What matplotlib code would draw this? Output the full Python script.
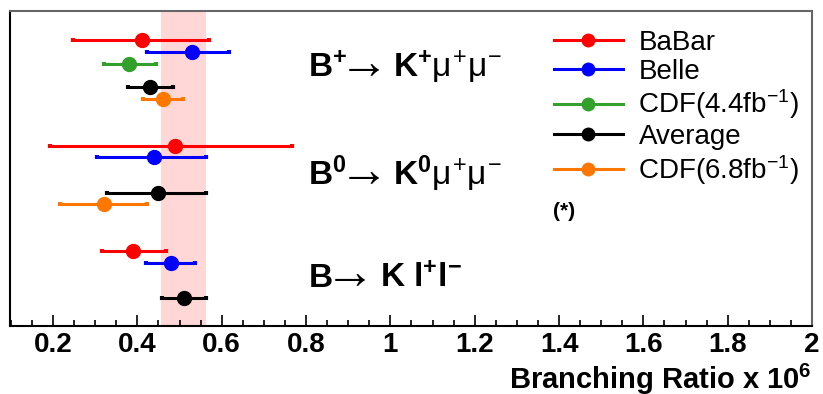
import matplotlib
matplotlib.use('Agg')
import matplotlib.pyplot as plt
import numpy as np
from matplotlib.lines import Line2D
from matplotlib.ticker import MultipleLocator

plt.rcParams['font.family'] = ['Liberation Sans', 'DejaVu Sans']
plt.rcParams['mathtext.fontset'] = 'custom'
plt.rcParams['mathtext.rm'] = 'Liberation Sans'
plt.rcParams['mathtext.it'] = 'Liberation Sans'
plt.rcParams['mathtext.bf'] = 'Liberation Sans:bold'

# decay modes (top to bottom): parent, daughters
mode_parent = [r'$\mathbf{B^{+}}$', r'$\mathbf{B^{0}}$', r'$\mathbf{B}$']
mode_daughters = [r'$\mathbf{K^{+}}\mu^{+}\mu^{-}$',
                  r'$\mathbf{K^{0}}\mu^{+}\mu^{-}$',
                  r'$\mathbf{K\ l^{+}l^{-}}$']

experiments = ['BaBar', 'Belle', r'CDF(4.4fb$^{\mathrm{-1}}$)', 'Average', r'CDF(6.8fb$^{\mathrm{-1}}$)']
colors = ['#ff0000', '#0000ff', '#33a02c', '#000000', '#ff7700']
slots = [0, 1, 2, 4, 5]

# values and asymmetric errors, one entry per decay mode
babar_val = [0.41, 0.49, 0.39]
babar_lo = [0.163, 0.296, 0.073]
babar_hi = [0.160, 0.277, 0.077]

belle_val = [0.53, 0.44, 0.48]
belle_lo = [0.107, 0.135, 0.060]
belle_hi = [0.088, 0.123, 0.057]

cdf44_val = [0.38, np.nan, np.nan]
cdf44_lo = [0.060, np.nan, np.nan]
cdf44_hi = [0.064, np.nan, np.nan]

avg_val = [0.43, 0.45, 0.51]
avg_lo = [0.053, 0.123, 0.052]
avg_hi = [0.054, 0.112, 0.052]

cdf68_val = [0.46, 0.32, np.nan]
cdf68_lo = [0.046, 0.104, np.nan]
cdf68_hi = [0.049, 0.104, np.nan]

band = (0.455, 0.563)

all_val = [babar_val, belle_val, cdf44_val, avg_val, cdf68_val]
all_lo = [babar_lo, belle_lo, cdf44_lo, avg_lo, cdf68_lo]
all_hi = [babar_hi, belle_hi, cdf44_hi, avg_hi, cdf68_hi]

fig = plt.figure(figsize=(8.23, 3.94), dpi=100)
ax = fig.add_axes([10/823, 1-326/394, 802/823, 315/394])

ax.axvspan(band[0], band[1], color='#ffd7d7', zorder=0, lw=0)

group_step = 9
for i in range(len(experiments)):
    y = np.arange(len(mode_parent)) * group_step + slots[i]
    ax.errorbar(all_val[i], y, xerr=[all_lo[i], all_hi[i]], fmt='o',
                color=colors[i], ms=10, elinewidth=2.2, capsize=1.5, capthick=3, zorder=3)

# label baselines and pixel offsets of arrow / daughters
label_base = [3.16, 12.39, 21.1]
arrow_dx = [22, 22, 8]
right_dx = [85, 85, 72]
for k in range(len(mode_parent)):
    xy = (0.805, label_base[k])
    ax.annotate(mode_parent[k], xy, xytext=(0, 0), textcoords='offset pixels',
                fontsize=24, va='baseline', ha='left')
    ax.annotate(r'$\rightarrow$', xy, xytext=(arrow_dx[k], 14), textcoords='offset pixels',
                fontsize=36, va='center', ha='left')
    ax.annotate(mode_daughters[k], xy, xytext=(right_dx[k], 0), textcoords='offset pixels',
                fontsize=24, va='baseline', ha='left')

ax.text(1.385, 14.6, '(*)', fontsize=15, fontweight='bold', va='center', ha='left')

handles = [Line2D([0], [0], color=c, marker='o', ms=9, lw=2.2) for c in colors]
leg = ax.legend(handles, experiments, loc='upper left', bbox_to_anchor=(0.678, 0.94),
                frameon=False, fontsize=20, handlelength=2.5, handletextpad=0.55,
                labelspacing=0.1, borderpad=0, borderaxespad=0)

ax.set_xlim(0.098, 2.0)
ax.set_ylim(24.4, -2.5)
ax.xaxis.set_major_locator(MultipleLocator(0.2))
ax.xaxis.set_minor_locator(MultipleLocator(0.05))
ax.set_xticks([0.2, 0.4, 0.6, 0.8, 1.0, 1.2, 1.4, 1.6, 1.8, 2.0])
ax.set_xticklabels(['0.2', '0.4', '0.6', '0.8', '1', '1.2', '1.4', '1.6', '1.8', '2'],
                   fontsize=20, fontweight='bold')
ax.tick_params(axis='x', which='major', direction='in', length=8, width=1.2, pad=4)
ax.tick_params(axis='x', which='minor', direction='in', length=4, width=1.2)
ax.set_yticks([])
for s in ax.spines.values():
    s.set_linewidth(1.5)
ax.spines['top'].set_color('#666666')
ax.spines['right'].set_color('#666666')

fig.text(812/823, 1-379/394, r'Branching Ratio x 10$^{\mathbf{6}}$', fontsize=21,
         fontweight='bold', ha='right', va='center')

fig.savefig('out.png', dpi=100)
